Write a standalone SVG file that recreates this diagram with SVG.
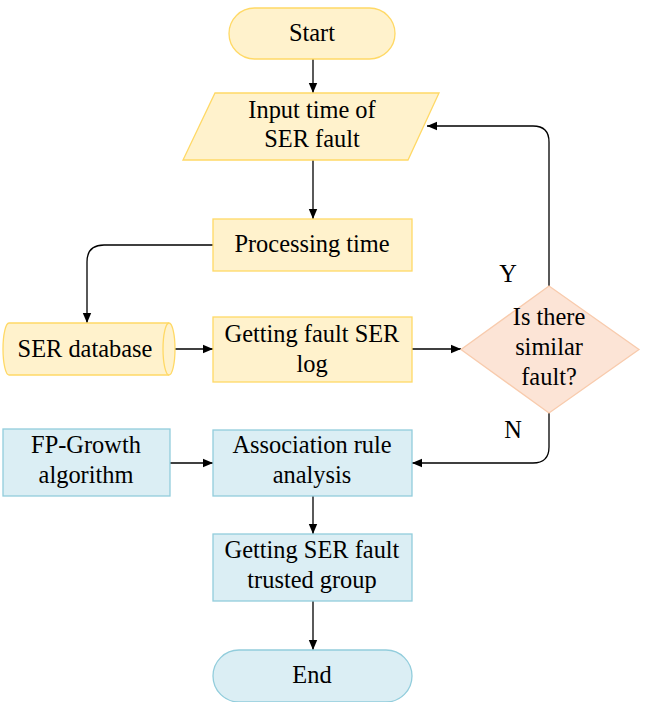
<svg xmlns="http://www.w3.org/2000/svg" width="646" height="702" viewBox="0 0 646 702">
<defs>
<style>
.y{fill:#fff2cc;stroke:#ffd966;stroke-width:1.3}
.b{fill:#dbeef4;stroke:#92cddc;stroke-width:1.3}
.d{fill:#fce4d6;stroke:#f8cbad;stroke-width:1.3}
text{font-family:'Liberation Serif','Times New Roman',serif;font-size:24.4px;fill:#000;text-anchor:middle}
.c{fill:none;stroke:#000;stroke-width:1.3}
</style>
<marker id="ah" viewBox="0 0 10 10" refX="10" refY="5" markerWidth="10" markerHeight="10" markerUnits="userSpaceOnUse" orient="auto">
<path d="M0,0.8 L10,5 L0,9.2 Z" fill="#000"/>
</marker>
</defs>
<rect width="646" height="702" fill="#fff"/>
<g id="connectors">
<line class="c" x1="313" y1="59" x2="313" y2="93" marker-end="url(#ah)"/>
<line class="c" x1="313" y1="160" x2="313" y2="219" marker-end="url(#ah)"/>
<path class="c" d="M213,245 H104 Q87,245 87,262 V323" marker-end="url(#ah)"/>
<line class="c" x1="175" y1="349" x2="213" y2="349" marker-end="url(#ah)"/>
<line class="c" x1="412" y1="349" x2="461" y2="349" marker-end="url(#ah)"/>
<path class="c" d="M549,286 V142 Q549,126 533,126 H427" marker-end="url(#ah)"/>
<path class="c" d="M549,413 V447 Q549,463 533,463 H412" marker-end="url(#ah)"/>
<line class="c" x1="170" y1="463" x2="213" y2="463" marker-end="url(#ah)"/>
<line class="c" x1="313" y1="496" x2="313" y2="534" marker-end="url(#ah)"/>
<line class="c" x1="313" y1="601" x2="313" y2="650" marker-end="url(#ah)"/>
<text x="508" y="282">Y</text>
<text x="513" y="438">N</text>
</g>
<g id="start">
<rect class="y" x="229" y="8" width="166" height="51" rx="25.5"/>
<text x="312" y="41">Start</text>
</g>
<g id="input">
<polygon class="y" points="215,93 439,93 408,160 183,160"/>
<text x="312" y="118">Input time of</text>
<text x="312" y="147">SER fault</text>
</g>
<g id="processing">
<rect class="y" x="213" y="219" width="199" height="52"/>
<text x="312" y="252">Processing time</text>
</g>
<g id="database">
<path class="y" d="M9,323 H169 A6,26 0 0 1 169,375 H9 A6,26 0 0 1 9,323 Z"/>
<path class="y" d="M169,323 A6,26 0 0 0 169,375" fill="none"/>
<text x="85" y="357">SER database</text>
</g>
<g id="getlog">
<rect class="y" x="213" y="317" width="199" height="65"/>
<text x="312" y="342">Getting fault SER</text>
<text x="312" y="372">log</text>
</g>
<g id="decision">
<polygon class="d" points="549,286 639,349.5 549,413 461,349.5"/>
<text x="549" y="325">Is there</text>
<text x="549" y="355">similar</text>
<text x="549" y="385">fault?</text>
</g>
<g id="fpgrowth">
<rect class="b" x="3" y="429" width="167" height="67"/>
<text x="86" y="453">FP-Growth</text>
<text x="86" y="483">algorithm</text>
</g>
<g id="association">
<rect class="b" x="213" y="430" width="199" height="66"/>
<text x="312" y="453">Association rule</text>
<text x="312" y="483">analysis</text>
</g>
<g id="trusted">
<rect class="b" x="213" y="534" width="199" height="67"/>
<text x="312" y="558">Getting SER fault</text>
<text x="312" y="588">trusted group</text>
</g>
<g id="end">
<rect class="b" x="213" y="650" width="199" height="52" rx="26"/>
<text x="312" y="683">End</text>
</g>
</svg>
